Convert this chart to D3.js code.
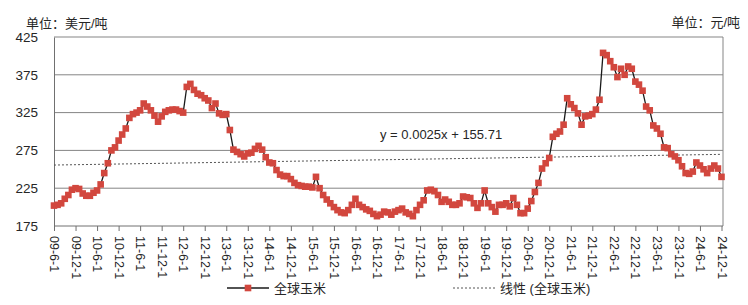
<!DOCTYPE html>
<html>
<head>
<meta charset="utf-8">
<script src="https://cdn.jsdelivr.net/npm/d3@7"></script>
<style>
  body { margin: 0; background: #fff; }
  svg text { font-family: "Liberation Sans", Arial, "Noto Sans CJK SC", sans-serif; fill: #262626; }
</style>
</head>
<body>
<svg id="chart" width="748" height="305"></svg>
<script>
/** monthly series, first value = 2009-06 */
const firstMonth = [2009, 6];
const cornPrice = [
  202, 203, 205, 211, 216, 223, 225, 224, 218, 215,
  215, 219, 222, 230, 245, 258, 275, 279, 288, 296,
  304, 318, 323, 325, 328, 337, 333, 328, 321, 313,
  320, 326, 328, 329, 329, 327, 325, 359, 363, 355,
  350, 348, 344, 341, 331, 337, 324, 322, 323, 302,
  276, 273, 270, 267, 271, 272, 277, 281, 276, 266,
  259, 258, 249, 243, 241, 241, 237, 232, 229, 228,
  227, 227, 226, 240, 225, 216, 210, 205, 200, 196,
  193, 192, 196, 203, 211, 203, 200, 197, 195, 191,
  188, 190, 194, 193, 190, 194, 196, 198, 193, 191,
  188, 196, 203, 209, 222, 223, 221, 216, 207, 210,
  207, 203, 203, 205, 214, 213, 212, 205, 199, 205,
  222, 205, 200, 194, 203, 203, 205, 201, 212, 203,
  192, 192, 198, 208, 220, 232, 251, 258, 265, 293,
  297, 300, 309, 344, 336, 331, 324, 309, 320, 321,
  323, 329, 342, 404, 401, 393, 385, 372, 383, 375,
  386, 383, 366, 362, 354, 333, 328, 308, 304, 297,
  279, 278, 270, 267, 262, 254, 245, 244, 247, 259,
  255, 250, 245, 251, 255, 251, 240
];
const tickLabels = [
  "09-6-1", "09-12-1", "10-6-1", "10-12-1", "11-6-1", "11-12-1", "12-6-1", "12-12-1",
  "13-6-1", "13-12-1", "14-6-1", "14-12-1", "15-6-1", "15-12-1", "16-6-1", "16-12-1",
  "17-6-1", "17-12-1", "18-6-1", "18-12-1", "19-6-1", "19-12-1", "20-6-1", "20-12-1",
  "21-6-1", "21-12-1", "22-6-1", "22-12-1", "23-6-1", "23-12-1", "24-6-1", "24-12-1"
];
const yTicks = [175, 225, 275, 325, 375, 425];
// trend line as printed on the chart (x = excel date serial)
const trendSlope = 0.0025, trendIntercept = 155.71;
const trendText = "y = 0.0025x + 155.71";

const margin = {top: 37, right: 25, bottom: 79, left: 54},
      W = 748, H = 305;
const mk = 6.6; // marker size

const svg = d3.select("#chart");

const data = cornPrice.map(function(v, i) {
  return {i: i, date: new Date(Date.UTC(firstMonth[0], firstMonth[1] - 1 + i, 1)), value: v};
});

const x = d3.scaleLinear()
  .domain([0, data.length - 1])
  .range([margin.left, W - margin.right - 1.5]);
const y = d3.scaleLinear()
  .domain([175, 425])
  .range([H - margin.bottom, margin.top]);

/** grid + frame */
svg.selectAll(".grid").data(yTicks.slice(1)).join("line")
  .attr("class", "grid")
  .attr("x1", margin.left).attr("x2", W - margin.right)
  .attr("y1", d => y(d)).attr("y2", d => y(d))
  .attr("stroke", "#858585").attr("stroke-width", 1);
svg.append("line")
  .attr("x1", W - margin.right).attr("x2", W - margin.right)
  .attr("y1", margin.top).attr("y2", H - margin.bottom)
  .attr("stroke", "#858585");

/** Y axis */
const yAxis = svg.append("g")
  .attr("transform", `translate(${margin.left},0)`)
  .call(d3.axisLeft(y).tickValues(yTicks).tickSize(0).tickPadding(16));
yAxis.select(".domain").attr("stroke", "#707070");
yAxis.selectAll("text").style("font-size", "13.5px");

/** X axis, labels every 6 months */
const tickIdx = tickLabels.map((d, k) => k * 6);
const xAxis = svg.append("g")
  .attr("transform", `translate(0,${y(175)})`)
  .call(d3.axisBottom(x).tickValues(tickIdx).tickSize(5).tickFormat((d, k) => tickLabels[k]));
xAxis.select(".domain").attr("d", `M${margin.left},0H${W - margin.right}`).attr("stroke", "#707070");
xAxis.selectAll(".tick line").attr("stroke", "#707070");
xAxis.selectAll("text")
  .style("font-size", "12.5px")
  .attr("text-anchor", "start")
  .attr("transform", "rotate(90)")
  .attr("x", 10).attr("y", 0).attr("dy", "0.35em");

/** trend line */
function excelSerial(dt) { return (dt - Date.UTC(1899, 11, 30)) / 86400000; }
const trendPts = [data[0], data[data.length - 1]].map(d => [x(d.i), y(trendSlope * excelSerial(d.date) + trendIntercept)]);
svg.append("path")
  .attr("d", d3.line()(trendPts))
  .attr("fill", "none")
  .attr("stroke", "#555")
  .attr("stroke-width", 1)
  .attr("stroke-dasharray", "2,2");
svg.append("text")
  .attr("x", 380).attr("y", 139)
  .style("font-size", "13px")
  .text(trendText);

/** series line + markers */
svg.append("path")
  .datum(data)
  .attr("d", d3.line().x(d => x(d.i)).y(d => y(d.value)))
  .attr("fill", "none")
  .attr("stroke", "#1a1a1a")
  .attr("stroke-width", 1.3);
svg.selectAll(".mk").data(data).join("rect")
  .attr("class", "mk")
  .attr("x", d => x(d.i) - mk / 2).attr("y", d => y(d.value) - mk / 2)
  .attr("width", mk).attr("height", mk)
  .attr("fill", "#d2473e");

/** unit titles */
svg.append("text").attr("x", 26).attr("y", 28).style("font-size", "13px").text("单位：美元/吨");
svg.append("text").attr("x", 740).attr("y", 27).attr("text-anchor", "end").style("font-size", "13px").text("单位：元/吨");

/** legend */
const lg = svg.append("g").attr("transform", "translate(0,288)");
lg.append("line").attr("x1", 227).attr("x2", 269).attr("stroke", "#1a1a1a").attr("stroke-width", 1.3);
lg.append("rect").attr("x", 248 - mk / 2).attr("y", -mk / 2).attr("width", mk).attr("height", mk).attr("fill", "#d2473e");
lg.append("text").attr("x", 274).attr("dy", "0.35em").style("font-size", "13px").text("全球玉米");
lg.append("line").attr("x1", 453).attr("x2", 496).attr("stroke", "#555").attr("stroke-dasharray", "2,2");
lg.append("text").attr("x", 500).attr("dy", "0.35em").style("font-size", "13px").text("线性 (全球玉米)");
</script>
</body>
</html>
